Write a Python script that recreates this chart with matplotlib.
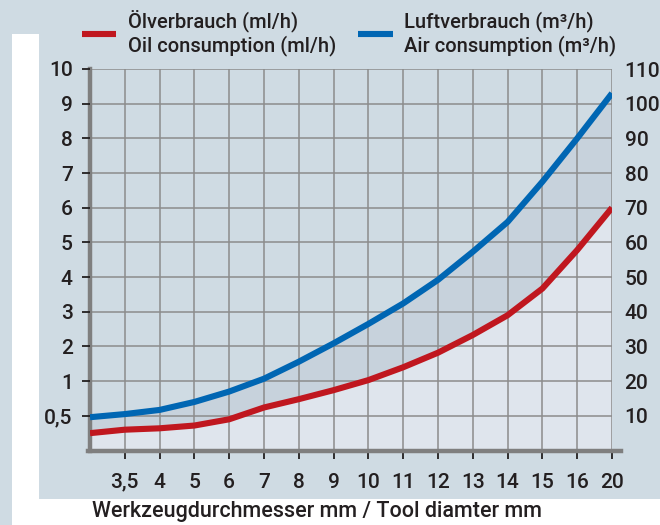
import numpy as np
import matplotlib
matplotlib.use("Agg")
import matplotlib.pyplot as plt
from matplotlib.lines import Line2D
from matplotlib.patches import Rectangle
from matplotlib.ticker import NullLocator

plt.rcParams['font.family'] = ['Roboto', 'DejaVu Sans']

# Tool diameters (mm); the first point sits on the left axis without a label
diameters = ['3', '3,5', '4', '5', '6', '7', '8', '9', '10', '11', '12', '13', '14', '15', '16', '20']
tick_labels = ['', '3,5', '4', '5', '6', '7', '8', '9', '10', '11', '12', '13', '14', '15', '16', '20']

# Oil consumption (ml/h) and air consumption (m³/h)
oil = [0.25, 0.30, 0.32, 0.36, 0.45, 0.62, 0.74, 0.87, 1.03, 1.40, 1.82, 2.33, 2.90, 3.67, 4.78, 6.0]
air = [9.6, 10.5, 11.7, 14.0, 17.0, 20.7, 25.6, 30.9, 36.5, 42.4, 49.2, 57.3, 65.9, 77.5, 90.0, 103.0]

oil_ticks = [0.5, 1, 2, 3, 4, 5, 6, 7, 8, 9, 10]
oil_tick_labels = ['0,5', '1', '2', '3', '4', '5', '6', '7', '8', '9', '10']
air_ticks = [10, 20, 30, 40, 50, 60, 70, 80, 90, 100, 110]

BG = '#cfdbe3'
BETWEEN = '#c7d2dc'
UNDER = '#dfe5ed'
RED = '#c0171f'
BLUE = '#0066b3'
GRID = '#8c8c8c'
SPINE = '#7f7f7f'
TEXT = '#231f20'
FS = 15
W = 'medium'


# Oil axis: 0..0.5 and 0.5..1 each take one grid step, above 1 one step per ml/h
def oil_fwd(v):
    v = np.asarray(v, dtype=float)
    return np.where(v < 1, 2 * v, v + 1)


def oil_inv(p):
    p = np.asarray(p, dtype=float)
    return np.where(p < 2, p / 2, p - 1)


x = np.arange(len(diameters))

fig = plt.figure(figsize=(6.6, 5.25), dpi=100, facecolor=BG)

# white frame strips
fig.add_artist(Rectangle((12 / 660, 0), 27 / 660, 1 - 34 / 525, transform=fig.transFigure,
                         facecolor='white', edgecolor='none', zorder=0))
fig.add_artist(Rectangle((12 / 660, 0), 1, 26 / 525, transform=fig.transFigure,
                         facecolor='white', edgecolor='none', zorder=0))

rect = [90 / 660, 74.5 / 525, 522 / 660, 381.5 / 525]
ax_air = fig.add_axes(rect)
ax_oil = ax_air.twinx()

ax_air.set_facecolor(BG)
ax_air.set_xlim(0, len(x) - 1)
ax_air.set_ylim(0, 110)

# oil values expressed in air-axis units for the shaded bands
oil_in_air = oil_fwd(oil) * 10
ax_air.fill_between(x, 0, oil_in_air, facecolor=UNDER, edgecolor='none', zorder=0.5)
ax_air.fill_between(x, oil_in_air, air, facecolor=BETWEEN, edgecolor='none', zorder=0.5)

ax_air.yaxis.tick_right()
ax_air.set_yticks(air_ticks)
ax_air.set_yticklabels([str(t) for t in air_ticks], fontweight=W)
ax_air.tick_params(axis='y', length=0, pad=9, labelsize=FS, labelcolor=TEXT)

ax_air.set_xticks(x[1:])
ax_air.set_xticklabels(tick_labels[1:], fontweight=W)
ax_air.tick_params(axis='x', direction='out', length=6, width=1.3, color=TEXT,
                   pad=10, labelsize=FS, labelcolor=TEXT)

ax_air.grid(True, color=GRID, linewidth=1.1, zorder=1)
ax_air.set_axisbelow('line')

for side in ['top', 'right']:
    ax_air.spines[side].set_visible(False)
ax_air.spines['left'].set_color(SPINE)
ax_air.spines['left'].set_linewidth(3.2)
ax_air.spines['bottom'].set_color(SPINE)
ax_air.spines['bottom'].set_linewidth(3.2)
ax_air.spines['bottom'].set_bounds(-0.05, len(x) - 1 + 0.25)

ax_air.plot(x, air, color=BLUE, linewidth=4.4, solid_capstyle='butt', zorder=3)

# oil axis on the left
ax_oil.set_yscale('function', functions=(oil_fwd, oil_inv))
ax_oil.set_ylim(0, 10)
ax_oil.yaxis.tick_left()
ax_oil.set_yticks(oil_ticks)
ax_oil.set_yticklabels(oil_tick_labels, fontweight=W)
ax_oil.yaxis.set_minor_locator(NullLocator())
ax_oil.tick_params(axis='y', direction='out', length=5.5, width=1.3, color=TEXT,
                   pad=7, labelsize=FS, labelcolor=TEXT)
for s in ax_oil.spines.values():
    s.set_visible(False)
ax_oil.plot(x, oil, color=RED, linewidth=4.4, solid_capstyle='butt', zorder=3)

# legend
LFS = 14.5
fig.add_artist(Line2D([82 / 660, 116 / 660], [1 - 34 / 525] * 2, transform=fig.transFigure,
                      color=RED, linewidth=4.4, solid_capstyle='butt'))
fig.text(128 / 660, 1 - 22 / 525, 'Ölverbrauch (ml/h)', fontsize=LFS, fontweight=W, color=TEXT, va='center')
fig.text(128 / 660, 1 - 46 / 525, 'Oil consumption (ml/h)', fontsize=LFS, fontweight=W, color=TEXT, va='center')

fig.add_artist(Line2D([358 / 660, 393 / 660], [1 - 34 / 525] * 2, transform=fig.transFigure,
                      color=BLUE, linewidth=4.4, solid_capstyle='butt'))
fig.text(404 / 660, 1 - 22 / 525, 'Luftverbrauch (m³/h)', fontsize=LFS, fontweight=W, color=TEXT, va='center')
fig.text(404 / 660, 1 - 46 / 525, 'Air consumption (m³/h)', fontsize=LFS, fontweight=W, color=TEXT, va='center')

fig.text(92 / 660, 1 - 512 / 525, 'Werkzeugdurchmesser mm / Tool diamter mm',
         fontsize=15.5, fontweight=W, color=TEXT, va='center', ha='left')

fig.savefig('out.png', dpi=100, facecolor=BG)
